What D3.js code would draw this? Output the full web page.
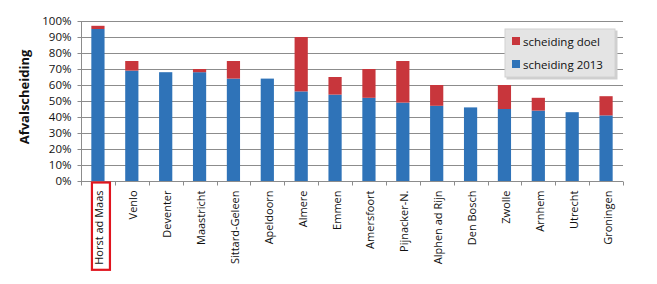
<!DOCTYPE html>
<html>
<head>
<meta charset="utf-8">
<script src="https://cdn.jsdelivr.net/npm/d3@7"></script>
<style>
  html, body { margin: 0; padding: 0; background: #fff; overflow: hidden; }
  svg { display: block; }
  text { font-family: "Open Sans", "Liberation Sans", sans-serif; fill: #111; }
  .grid line { stroke: #8c8c8c; stroke-width: 1; }
  .axis path, .axis line { stroke: #8c8c8c; }
</style>
</head>
<body>
<div id="chart"></div>
<script>
// gemeenten, scheiding 2013 en doel (%)
var gemeenten = ["Horst ad Maas", "Venlo", "Deventer", "Maastricht", "Sittard-Geleen",
  "Apeldoorn", "Almere", "Emmen", "Amersfoort", "Pijnacker-N.", "Alphen ad Rijn",
  "Den Bosch", "Zwolle", "Arnhem", "Utrecht", "Groningen"];
var scheiding2013 = [95, 69, 68, 68, 64, 64, 56, 54, 52, 49, 47, 46, 45, 44, 43, 41];
var scheidingDoel = [97, 75, 68, 70, 75, 64, 90, 65, 70, 75, 60, 46, 60, 52, 43, 53];
var yTicks = [0, 10, 20, 30, 40, 50, 60, 70, 80, 90, 100];

var width = 657, height = 284;
var margin = {top: 21, right: 34, bottom: 103, left: 81};
var innerWidth = width - margin.left - margin.right;
var innerHeight = height - margin.top - margin.bottom;

var svg = d3.select("#chart").append("svg")
  .attr("width", width)
  .attr("height", height)
  .attr("viewBox", "0 0 " + width + " " + height);

var g = svg.append("g")
  .attr("transform", "translate(" + margin.left + "," + margin.top + ")");

var x = d3.scaleBand()
  .domain(gemeenten)
  .range([0, innerWidth])
  .paddingInner(0.61)
  .paddingOuter(0.305);

var y = d3.scaleLinear()
  .domain([0, 100])
  .range([innerHeight, 0]);

// gridlines
g.append("g")
  .attr("class", "grid")
  .selectAll("line")
  .data(yTicks.slice(1))
  .enter().append("line")
  .attr("x1", 0).attr("x2", innerWidth)
  .attr("y1", function(d) { return y(d) + 0.5; })
  .attr("y2", function(d) { return y(d) + 0.5; });

var rows = gemeenten.map(function(name, i) {
  return {name: name, base: scheiding2013[i], extra: Math.max(0, scheidingDoel[i] - scheiding2013[i])};
});

// blauwe balken: scheiding 2013
g.selectAll(".bar2013")
  .data(rows)
  .enter().append("rect")
  .attr("class", "bar2013")
  .attr("x", function(d) { return x(d.name); })
  .attr("width", x.bandwidth())
  .attr("y", function(d) { return y(d.base); })
  .attr("height", function(d) { return innerHeight - y(d.base); })
  .attr("fill", "#2f73b8");

// rode balken: verschil tot doel
g.selectAll(".bardoel")
  .data(rows.filter(function(d) { return d.extra > 0; }))
  .enter().append("rect")
  .attr("class", "bardoel")
  .attr("x", function(d) { return x(d.name); })
  .attr("width", x.bandwidth())
  .attr("y", function(d) { return y(d.base + d.extra); })
  .attr("height", function(d) { return y(d.base) - y(d.base + d.extra); })
  .attr("fill", "#c8363c");

// y axis
var yAxis = g.append("g")
  .attr("class", "axis")
  .attr("transform", "translate(0.5,0)")
  .call(d3.axisLeft(y).tickValues(yTicks).tickSize(4).tickPadding(6)
    .tickFormat(function(d) { return d + "%"; }));
yAxis.select(".domain").attr("d", "M0," + y(100) + "V" + innerHeight);
yAxis.selectAll("text").style("font-size", "11.5px");

// x axis: ticks between categories
var axisY = margin.top + innerHeight + 0.5;
var xAxis = svg.append("g").attr("class", "axis");
xAxis.append("line")
  .attr("x1", margin.left).attr("x2", margin.left + innerWidth)
  .attr("y1", axisY).attr("y2", axisY);
xAxis.selectAll(".sep")
  .data(d3.range(gemeenten.length + 1))
  .enter().append("line")
  .attr("x1", function(i) { return margin.left + Math.round(i * x.step()) + 0.5; })
  .attr("x2", function(i) { return margin.left + Math.round(i * x.step()) + 0.5; })
  .attr("y1", axisY).attr("y2", axisY + 4);

// labels rotated around their own anchor point
var labels = svg.append("g").selectAll(".lbl")
  .data(gemeenten)
  .enter().append("text")
  .attr("class", "lbl")
  .attr("x", function(d) { return margin.left + x(d) + x.bandwidth() / 2 + 5.5; })
  .attr("y", axisY + 9)
  .attr("transform", function(d) {
    var lx = margin.left + x(d) + x.bandwidth() / 2 + 5.5;
    return "rotate(-90," + lx + "," + (axisY + 9) + ")";
  })
  .attr("text-anchor", "end")
  .style("font-size", "11px")
  .text(function(d) { return d; });

// rood kader om Horst ad Maas
var labelLen = labels.filter(function(d, i) { return i === 0; }).node().getComputedTextLength();
var cx = margin.left + x(gemeenten[0]) + x.bandwidth() / 2;
svg.append("rect")
  .attr("x", cx - 6)
  .attr("y", axisY + 1)
  .attr("width", 18)
  .attr("height", labelLen + 13)
  .attr("fill", "none")
  .attr("stroke", "#e0141e")
  .attr("stroke-width", 2.2);

// y title
svg.append("text")
  .attr("x", 29).attr("y", 97)
  .attr("transform", "rotate(-90,29,97)")
  .attr("text-anchor", "middle")
  .style("font-size", "13px")
  .style("font-weight", "bold")
  .text("Afvalscheiding");

// legend
var legendItems = [{label: "scheiding doel", color: "#c8363c"}, {label: "scheiding 2013", color: "#2f73b8"}];
var legend = svg.append("g").attr("transform", "translate(505,29)");
legend.append("rect")
  .attr("x", 1.5).attr("y", 1.5)
  .attr("width", 111).attr("height", 49)
  .attr("fill", "#cfcfcf");
legend.append("rect")
  .attr("width", 110).attr("height", 48)
  .attr("fill", "#e4e4e4")
  .attr("stroke", "#d2d2d2");
var li = legend.selectAll(".li")
  .data(legendItems)
  .enter().append("g")
  .attr("transform", function(d, i) { return "translate(7," + (8 + i * 23) + ")"; });
li.append("rect")
  .attr("width", 8).attr("height", 8)
  .attr("fill", function(d) { return d.color; });
li.append("text")
  .attr("x", 11).attr("y", 8.5)
  .style("font-size", "11.5px")
  .text(function(d) { return d.label; });
</script>
</body>
</html>
